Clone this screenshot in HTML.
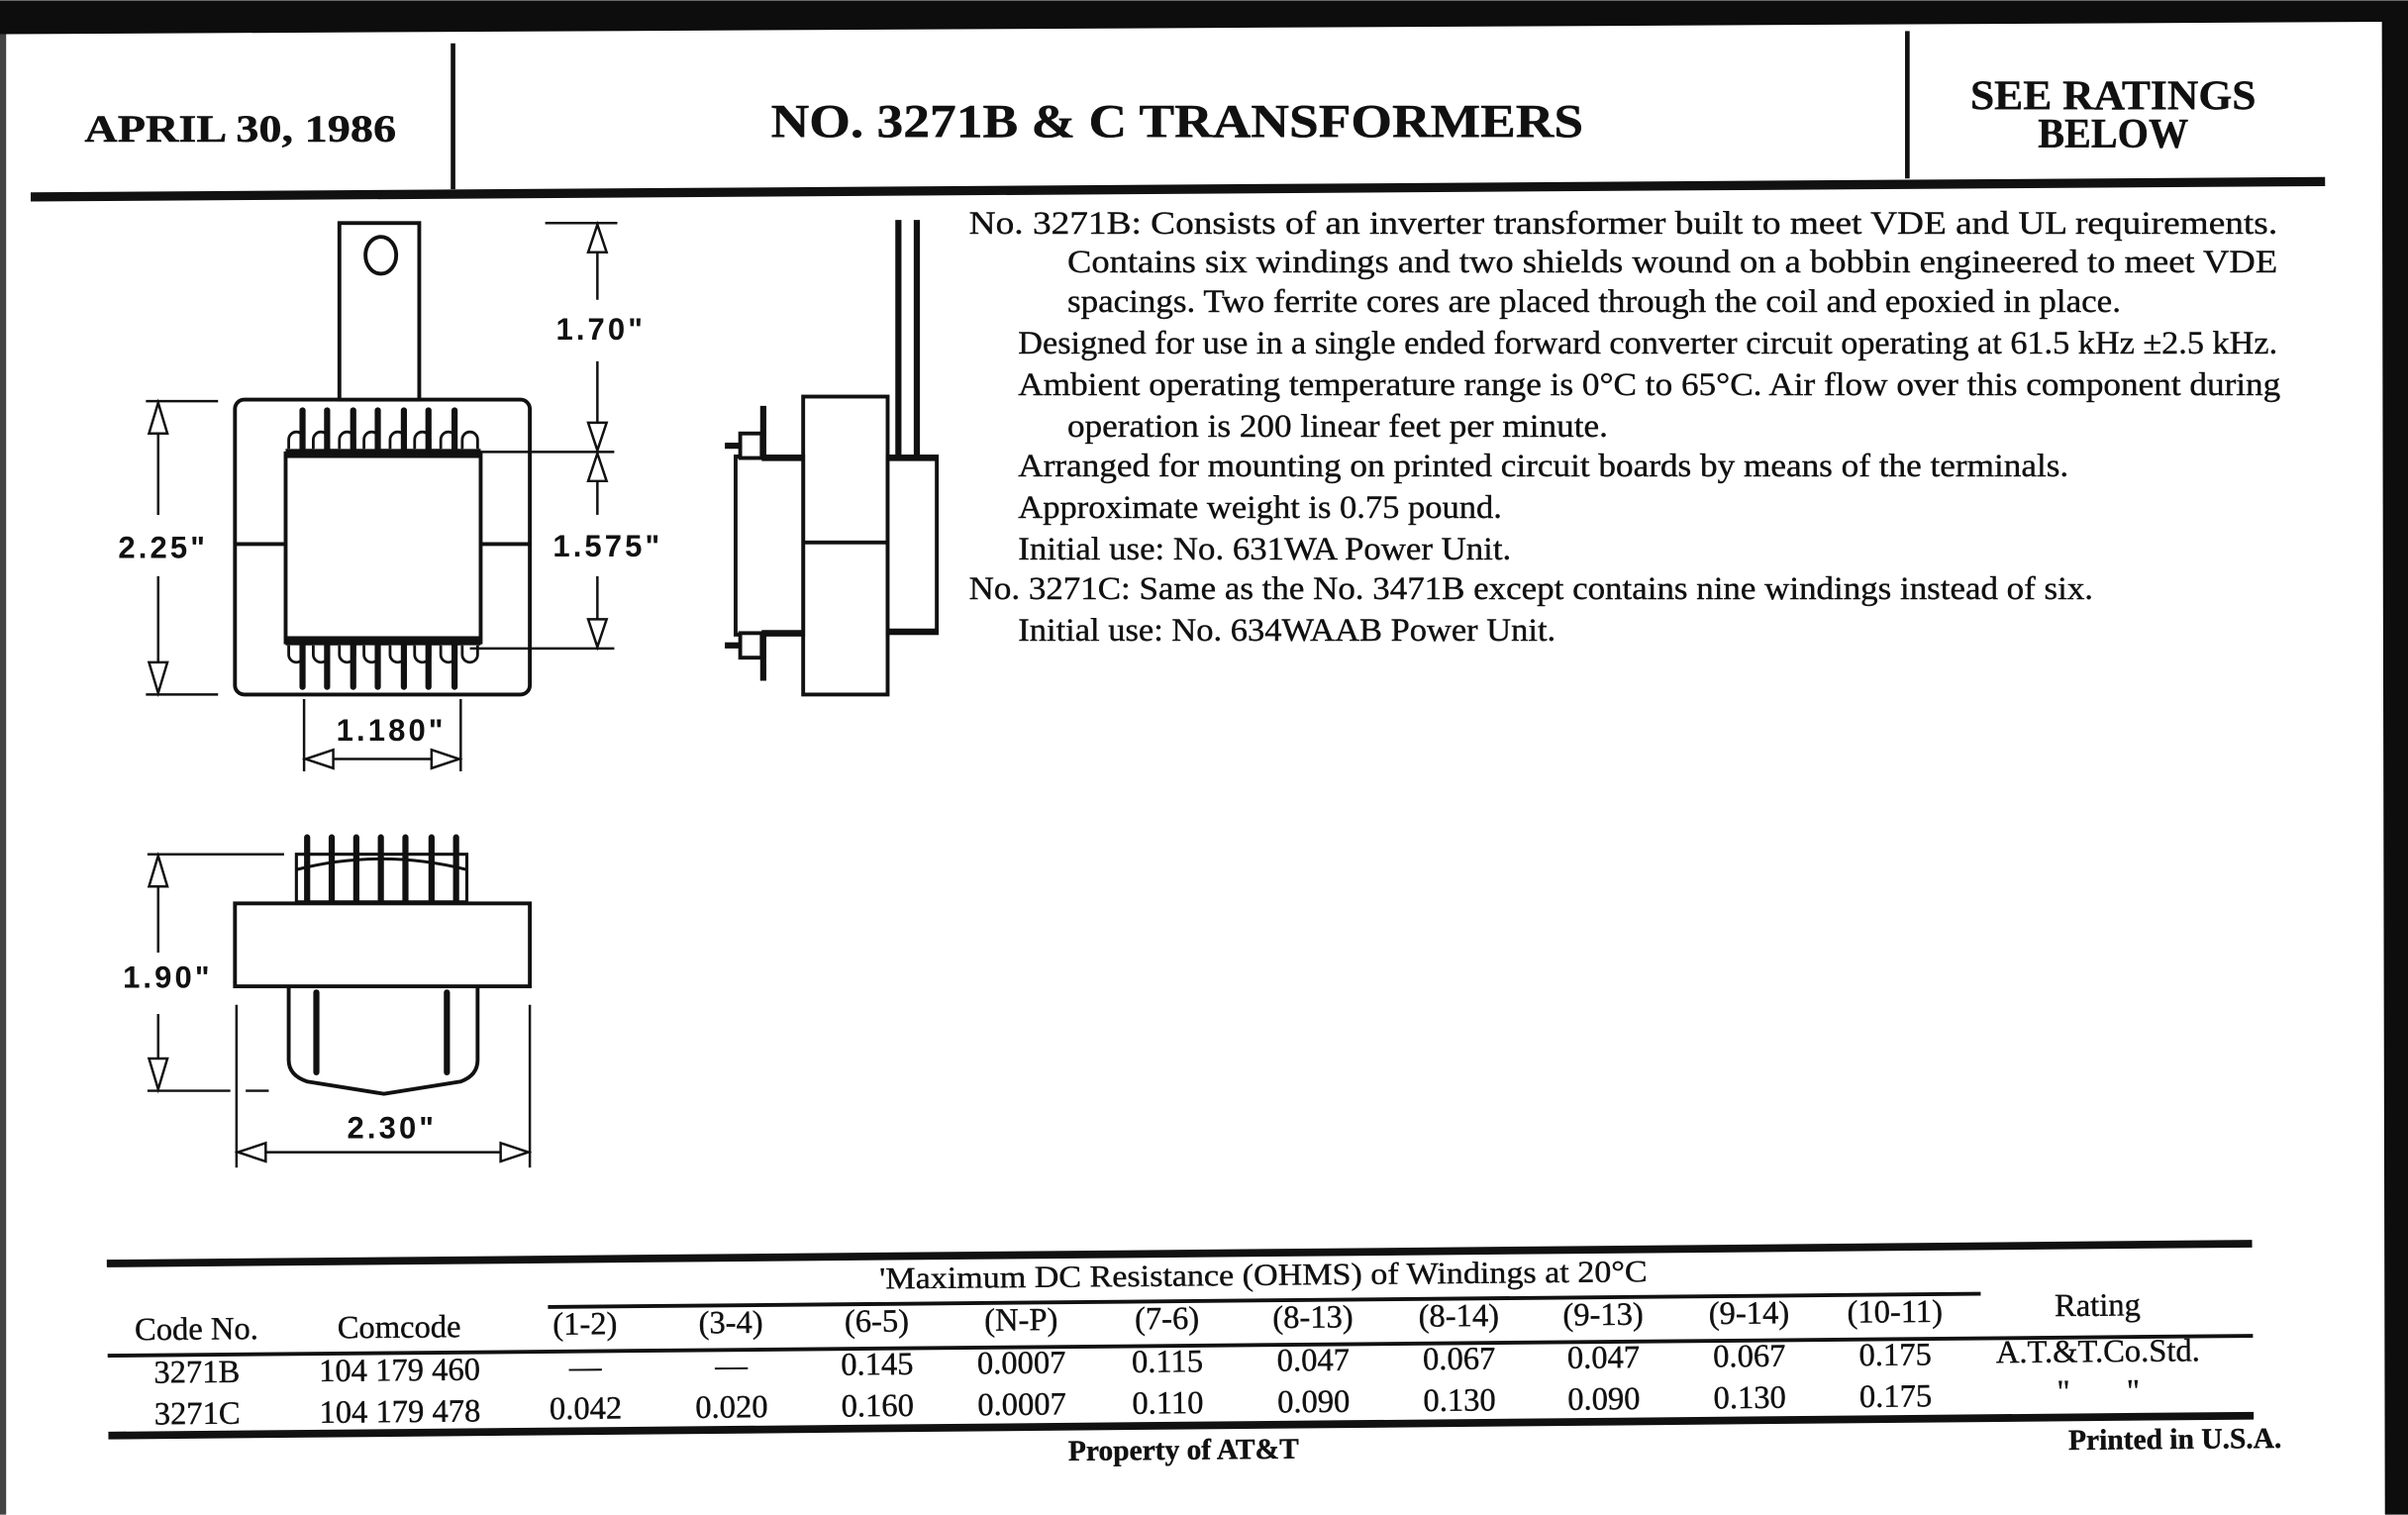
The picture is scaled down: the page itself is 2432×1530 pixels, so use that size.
<!DOCTYPE html>
<html><head><meta charset="utf-8"><style>
html,body{margin:0;padding:0;background:#fff;}
svg{display:block;}
.s{font-family:"Liberation Serif",serif;fill:#111;stroke:#111;stroke-width:0.25;}
.b{font-weight:bold;}
.d{font-family:"Liberation Sans",sans-serif;font-weight:bold;fill:#111;letter-spacing:2px;}
</style></head><body>
<svg width="2432" height="1530" viewBox="0 0 1568 986" xmlns="http://www.w3.org/2000/svg">
<rect x="0" y="0" width="1568" height="986" fill="#fff"/>
<polygon points="0,0 1568,0 1568,986 1553,986 1551,14 4,22 0,22" fill="#0d0d0d"/>
<rect x="0" y="22" width="4" height="964" fill="#444"/>
<line x1="295" y1="28" x2="295" y2="123" stroke="#111" stroke-width="3"/>
<line x1="1242" y1="20" x2="1242" y2="116" stroke="#111" stroke-width="3"/>
<line x1="20" y1="128" x2="1514" y2="118" stroke="#111" stroke-width="6"/>
<text class="s b" x="55" y="92" font-size="25" textLength="203" lengthAdjust="spacingAndGlyphs">APRIL 30, 1986</text>
<text class="s b" x="502" y="89" font-size="31" textLength="529" lengthAdjust="spacingAndGlyphs">NO. 3271B &amp; C TRANSFORMERS</text>
<text class="s b" x="1376" y="71" font-size="27" text-anchor="middle" textLength="186" lengthAdjust="spacingAndGlyphs">SEE RATINGS</text>
<text class="s b" x="1376" y="96" font-size="27" text-anchor="middle" textLength="98" lengthAdjust="spacingAndGlyphs">BELOW</text>
<g class="s" font-size="21">
<text x="631" y="152" textLength="852" lengthAdjust="spacingAndGlyphs">No. 3271B: Consists of an inverter transformer built to meet VDE and UL requirements.</text>
<text x="695" y="177" textLength="788" lengthAdjust="spacingAndGlyphs">Contains six windings and two shields wound on a bobbin engineered to meet VDE</text>
<text x="695" y="203" textLength="686" lengthAdjust="spacingAndGlyphs">spacings. Two ferrite cores are placed through the coil and epoxied in place.</text>
<text x="663" y="230" textLength="820" lengthAdjust="spacingAndGlyphs">Designed for use in a single ended forward converter circuit operating at 61.5 kHz ±2.5 kHz.</text>
<text x="663" y="257" textLength="822" lengthAdjust="spacingAndGlyphs">Ambient operating temperature range is 0°C to 65°C. Air flow over this component during</text>
<text x="695" y="284" textLength="352" lengthAdjust="spacingAndGlyphs">operation is 200 linear feet per minute.</text>
<text x="663" y="310" textLength="684" lengthAdjust="spacingAndGlyphs">Arranged for mounting on printed circuit boards by means of the terminals.</text>
<text x="663" y="337" textLength="315" lengthAdjust="spacingAndGlyphs">Approximate weight is 0.75 pound.</text>
<text x="663" y="364" textLength="321" lengthAdjust="spacingAndGlyphs">Initial use: No. 631WA Power Unit.</text>
<text x="631" y="390" textLength="732" lengthAdjust="spacingAndGlyphs">No. 3271C: Same as the No. 3471B except contains nine windings instead of six.</text>
<text x="663" y="417" textLength="350" lengthAdjust="spacingAndGlyphs">Initial use: No. 634WAAB Power Unit.</text>
</g>
<g stroke="#111" fill="none" stroke-width="2.5">
<rect x="153" y="260" width="192" height="192" rx="6"/>
<rect x="221" y="145" width="52" height="115" fill="#fff"/>
<ellipse cx="248" cy="166" rx="10" ry="12"/>
<rect x="186" y="295" width="127" height="123"/>
<line x1="153" y1="354" x2="186" y2="354"/>
<line x1="313" y1="354" x2="345" y2="354"/>
</g>
<rect x="186" y="292" width="127" height="6" fill="#111"/>
<rect x="186" y="414" width="127" height="6" fill="#111"/>
<g stroke="#111" fill="#fff" stroke-width="1.8">
<path d="M188,292 v-6 a5,5 0 0 1 10,0 v6 M204,292 v-6 a5,5 0 0 1 10,0 v6 M221,292 v-6 a5,5 0 0 1 10,0 v6 M237,292 v-6 a5,5 0 0 1 10,0 v6 M254,292 v-6 a5,5 0 0 1 10,0 v6 M270,292 v-6 a5,5 0 0 1 10,0 v6 M287,292 v-6 a5,5 0 0 1 10,0 v6 M301,292 v-6 a5,5 0 0 1 10,0 v6"/>
<path d="M188,420 v6 a5,5 0 0 0 10,0 v-6 M204,420 v6 a5,5 0 0 0 10,0 v-6 M221,420 v6 a5,5 0 0 0 10,0 v-6 M237,420 v6 a5,5 0 0 0 10,0 v-6 M254,420 v6 a5,5 0 0 0 10,0 v-6 M270,420 v6 a5,5 0 0 0 10,0 v-6 M287,420 v6 a5,5 0 0 0 10,0 v-6 M301,420 v6 a5,5 0 0 0 10,0 v-6"/>
</g>
<g stroke="#111" stroke-width="4" stroke-linecap="round">
<line x1="197" y1="267" x2="197" y2="292"/><line x1="213" y1="267" x2="213" y2="292"/><line x1="230" y1="267" x2="230" y2="292"/><line x1="246" y1="267" x2="246" y2="292"/><line x1="263" y1="267" x2="263" y2="292"/><line x1="279" y1="267" x2="279" y2="292"/><line x1="296" y1="267" x2="296" y2="292"/>
<line x1="197" y1="420" x2="197" y2="447"/><line x1="213" y1="420" x2="213" y2="447"/><line x1="230" y1="420" x2="230" y2="447"/><line x1="246" y1="420" x2="246" y2="447"/><line x1="263" y1="420" x2="263" y2="447"/><line x1="279" y1="420" x2="279" y2="447"/><line x1="296" y1="420" x2="296" y2="447"/>
</g>
<g stroke="#111" stroke-width="1.6" fill="#fff">
<line x1="95" y1="261" x2="142" y2="261"/><line x1="95" y1="452" x2="142" y2="452"/>
<line x1="103" y1="262" x2="103" y2="335"/><line x1="103" y1="375" x2="103" y2="451"/>
<polygon points="103,262 97,282 109,282"/><polygon points="103,451 97,431 109,431"/>
<line x1="355" y1="145" x2="402" y2="145"/><line x1="306" y1="294" x2="400" y2="294"/><line x1="306" y1="422" x2="400" y2="422"/>
<line x1="389" y1="146" x2="389" y2="195"/><line x1="389" y1="235" x2="389" y2="293"/>
<line x1="389" y1="295" x2="389" y2="335"/><line x1="389" y1="375" x2="389" y2="421"/>
<polygon points="389,146 383,164 395,164"/><polygon points="389,293 383,275 395,275"/>
<polygon points="389,295 383,313 395,313"/><polygon points="389,421 383,403 395,403"/>
<line x1="198" y1="455" x2="198" y2="502"/><line x1="300" y1="455" x2="300" y2="502"/>
<line x1="199" y1="494" x2="299" y2="494"/>
<polygon points="199,494 217,488 217,500"/><polygon points="299,494 281,488 281,500"/>
</g>
<g class="d" font-size="20">
<text x="77" y="363">2.25"</text>
<text x="362" y="221">1.70"</text>
<text x="360" y="362">1.575"</text>
<text x="219" y="482">1.180"</text>
<text x="80" y="643">1.90"</text>
<text x="226" y="741">2.30"</text>
</g>
<g stroke="#111" fill="#fff" stroke-width="2.5">
<rect x="523" y="258" width="55" height="194"/>
<rect x="578" y="297" width="32" height="115"/>
<rect x="479" y="297" width="44" height="116"/>
<line x1="523" y1="353" x2="578" y2="353"/>
<rect x="482" y="282" width="14" height="16"/>
<rect x="482" y="412" width="14" height="16"/>
</g>
<g stroke="#111" stroke-width="4">
<line x1="585" y1="143" x2="585" y2="298"/><line x1="597" y1="143" x2="597" y2="298"/>
<line x1="578" y1="298" x2="610" y2="298"/><line x1="578" y1="411" x2="610" y2="411"/>
<line x1="497" y1="264" x2="497" y2="298"/><line x1="497" y1="412" x2="497" y2="443"/>
<line x1="472" y1="290" x2="482" y2="290"/><line x1="472" y1="420" x2="482" y2="420"/>
<line x1="496" y1="298" x2="523" y2="298"/><line x1="496" y1="412" x2="523" y2="412"/>
</g>
<g stroke="#111" fill="#fff" stroke-width="2.5">
<path d="M188,643 L188,690 Q188,700 200,704 L250,712 L300,704 Q311,700 311,690 L311,643"/>
<rect x="153" y="588" width="192" height="54"/>
</g>
<g stroke="#111" stroke-width="4" stroke-linecap="round">
<line x1="206" y1="646" x2="206" y2="698"/><line x1="291" y1="646" x2="291" y2="698"/>
<line x1="200" y1="545" x2="200" y2="586"/><line x1="216" y1="545" x2="216" y2="586"/><line x1="232" y1="545" x2="232" y2="586"/><line x1="248" y1="545" x2="248" y2="586"/><line x1="264" y1="545" x2="264" y2="586"/><line x1="281" y1="545" x2="281" y2="586"/><line x1="297" y1="545" x2="297" y2="586"/>
</g>
<path d="M193,556 L304,556 L304,587 L193,587 Z" fill="none" stroke="#111" stroke-width="2"/>
<path d="M193,566 Q248,552 304,566" fill="none" stroke="#111" stroke-width="2"/>
<g stroke="#111" stroke-width="1.6" fill="#fff">
<line x1="96" y1="556" x2="185" y2="556"/><line x1="96" y1="710" x2="150" y2="710"/><line x1="160" y1="710" x2="175" y2="710"/>
<line x1="103" y1="557" x2="103" y2="620"/><line x1="103" y1="660" x2="103" y2="709"/>
<polygon points="103,557 97,577 109,577"/><polygon points="103,709 97,689 109,689"/>
<line x1="154" y1="654" x2="154" y2="760"/><line x1="345" y1="654" x2="345" y2="760"/>
<line x1="155" y1="750" x2="344" y2="750"/>
<polygon points="155,750 173,744 173,756"/><polygon points="344,750 326,744 326,756"/>
</g>
<g transform="rotate(-0.53 770 870)">
<line x1="70" y1="816" x2="1467" y2="816" stroke="#111" stroke-width="5"/>
<text class="s" x="823" y="837" font-size="20" text-anchor="middle" textLength="500" lengthAdjust="spacingAndGlyphs">'Maximum DC Resistance (OHMS) of Windings at 20°C</text>
<line x1="357" y1="847" x2="1290" y2="847" stroke="#111" stroke-width="2.5"/>
<g class="s" font-size="21" text-anchor="middle">
<text x="128" y="866">Code No.</text><text x="260" y="866">Comcode</text>
<text x="381" y="865">(1-2)</text><text x="476" y="865">(3-4)</text><text x="571" y="865">(6-5)</text><text x="665" y="865">(N-P)</text><text x="760" y="865">(7-6)</text><text x="855" y="865">(8-13)</text><text x="950" y="865">(8-14)</text><text x="1044" y="865">(9-13)</text><text x="1139" y="865">(9-14)</text><text x="1234" y="865">(10-11)</text><text x="1366" y="862">Rating</text>
</g>
<line x1="70" y1="876" x2="1467" y2="876" stroke="#111" stroke-width="2.5"/>
<g class="s" font-size="21" text-anchor="middle">
<text x="128" y="894">3271B</text><text x="260" y="894">104 179 460</text>
<text x="381" y="893">—</text><text x="476" y="893">—</text><text x="571" y="893">0.145</text><text x="665" y="893">0.0007</text><text x="760" y="893">0.115</text><text x="855" y="893">0.047</text><text x="950" y="893">0.067</text><text x="1044" y="893">0.047</text><text x="1139" y="893">0.067</text><text x="1234" y="893">0.175</text><text x="1366" y="892">A.T.&amp;T.Co.Std.</text>
<text x="128" y="921">3271C</text><text x="260" y="921">104 179 478</text>
<text x="381" y="920">0.042</text><text x="476" y="920">0.020</text><text x="571" y="920">0.160</text><text x="665" y="920">0.0007</text><text x="760" y="920">0.110</text><text x="855" y="920">0.090</text><text x="950" y="920">0.130</text><text x="1044" y="920">0.090</text><text x="1139" y="920">0.130</text><text x="1234" y="920">0.175</text><text x="1366" y="918">"&#160;&#160;&#160;&#160;&#160;&#160;&#160;"</text>
</g>
<line x1="70" y1="928" x2="1467" y2="928" stroke="#111" stroke-width="5"/>
<text class="s b" x="770" y="950" font-size="19" text-anchor="middle">Property of AT&amp;T</text>
<text class="s b" x="1485" y="949" font-size="19" text-anchor="end">Printed in U.S.A.</text>
</g>
</svg>
</body></html>
